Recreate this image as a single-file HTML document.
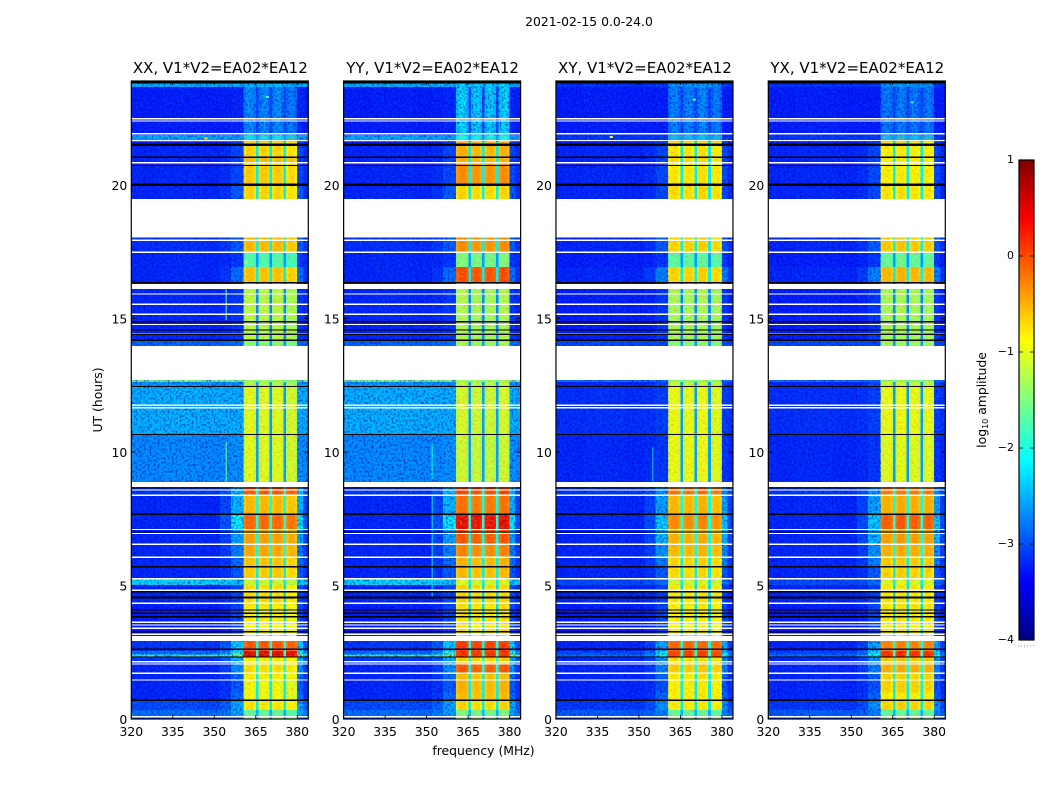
<!DOCTYPE html>
<html lang="en">
<head>
<meta charset="utf-8">
<title>2021-02-15 0.0-24.0</title>
<style>
html,body{margin:0;padding:0;background:#fff;}
#chart{display:block;width:1050px;height:800px;font-family:"DejaVu Sans","Liberation Sans",sans-serif;fill:#000;}
</style>
</head>
<body>
<svg id="chart" xmlns="http://www.w3.org/2000/svg" width="1050" height="800" viewBox="0 0 1050 800">
  <defs>
    <filter id="speckle-light" x="0" y="0" width="100%" height="100%" color-interpolation-filters="sRGB">
      <feTurbulence type="fractalNoise" baseFrequency="0.55 0.42" numOctaves="1" seed="4"/>
      <feColorMatrix type="matrix" values="0 0 0 0 0  0 0 0 0 0.42  0 0 0 0 1  2.4 0 0 0 -1.05"/>
    </filter>
    <filter id="speckle-dark" x="0" y="0" width="100%" height="100%" color-interpolation-filters="sRGB">
      <feTurbulence type="fractalNoise" baseFrequency="0.5 0.45" numOctaves="1" seed="11"/>
      <feColorMatrix type="matrix" values="0 0 0 0 0  0 0 0 0 0  0 0 0 0 0.7  2.4 0 0 0 -1.05"/>
    </filter>
    <filter id="speckle-warm" x="0" y="0" width="100%" height="100%" color-interpolation-filters="sRGB">
      <feTurbulence type="fractalNoise" baseFrequency="0.35 0.5" numOctaves="1" seed="7"/>
      <feColorMatrix type="matrix" values="0 0 0 0 1  0 0 0 0 0.45  0 0 0 0 0  2.4 0 0 0 -1.05"/>
    </filter>
    <filter id="speckle-green" x="0" y="0" width="100%" height="100%" color-interpolation-filters="sRGB">
      <feTurbulence type="fractalNoise" baseFrequency="0.4 0.45" numOctaves="1" seed="19"/>
      <feColorMatrix type="matrix" values="0 0 0 0 0.55  0 0 0 0 1  0 0 0 0 0.35  2.4 0 0 0 -1.05"/>
    </filter>
  </defs>
  <text x="589" y="26" font-size="12.4" text-anchor="middle">2021-02-15 0.0-24.0</text>
  <g id="panels"></g>
  <text transform="translate(102,400) rotate(-90)" font-size="12.4" text-anchor="middle">UT (hours)</text>
  <text x="483.5" y="755" font-size="12.4" text-anchor="middle">frequency (MHz)</text>
  <g id="colorbar"></g>
  <text transform="translate(986,400) rotate(-90)" font-size="12.4" text-anchor="middle">log<tspan font-size="8" dy="2">10</tspan><tspan dy="-2"> amplitude</tspan></text>
  <line x1="1018" x2="1035" y1="646" y2="646" stroke="#888" stroke-width="1" stroke-dasharray="1 2"/>
</svg>
<script>
/* ---------- data (hours, MHz, log10 amplitude) ---------- */
const panelTitles = ["XX, V1*V2=EA02*EA12", "YY, V1*V2=EA02*EA12", "XY, V1*V2=EA02*EA12", "YX, V1*V2=EA02*EA12"];
const xTicks = [320, 335, 350, 365, 380];
const yTicks = [0, 5, 10, 15, 20];
const colorbarTicks = [1, 0, -1, -2, -3, -4];

const freqBinEdges = [320, 330, 345, 352, 356, 360.6, 361.5, 364.2, 365.1, 366, 366.9, 369.2, 370.05, 370.95, 371.8, 374.2, 375.05, 376, 376.9, 379.1, 380, 382, 384];
const freqBinKinds = ["bg", "bg", "bg", "edgeFar", "edge", "sub0", "sub0", "sub0", "gap", "sub1", "sub1", "sub1", "gap", "sub2", "sub2", "sub2", "gap", "sub3", "sub3", "sub3", "edge", "edgeFar"];
const freqBinTilt = [0, 0.02, 0, 0, 0, -0.08, 0.03, -0.08, 0, -0.08, 0.03, -0.08, 0, -0.08, 0.03, -0.08, 0, -0.08, 0.03, -0.08, 0, 0];

const bandStarts = [0, 0.11, 0.34, 0.71, 1.0, 1.46, 1.71, 2.06, 2.32, 2.42, 2.55, 2.92, 3.11, 4.27, 5.02, 5.24, 5.69, 6.06, 6.54, 7.10, 7.68, 8.39, 8.65, 8.88, 10.67, 12.47, 12.62, 12.70, 13.97, 14.19, 16.10, 16.33, 16.93, 17.49, 18.09, 19.48, 20.01, 20.84, 21.04, 21.62, 21.68, 21.87, 23.67, 23.82];
const bandEndHour = 23.9;

const bgParallel = [-3.1, -2.8, -3.0, -3.2, -3.2, -3.2, -3.2, -3.1, -1.9, -2.8, -3.1, -3.1, -3.25, -3.2, -2.25, -3.2, -3.2, -3.2, -3.2, -3.2, -3.2, -3.1, -3.1, -2.65, -2.45, -2.6, -1.5, -3.1, -2.85, -3.2, -3.2, -3.2, -3.2, -3.15, -3.2, -3.2, -3.2, -3.2, -3.2, -2.7, -2.5, -3.25, -2.45, -2.45];
const bgCross = [-3.1, -2.9, -3.1, -3.2, -3.2, -3.2, -3.2, -3.2, -2.8, -3.0, -3.2, -3.2, -3.25, -3.2, -3.0, -3.2, -3.2, -3.2, -3.2, -3.2, -3.2, -3.1, -3.1, -3.2, -3.15, -3.2, -2.8, -3.1, -3.0, -3.25, -3.2, -3.2, -3.25, -3.2, -3.2, -3.2, -3.2, -3.2, -3.2, -3.0, -3.1, -3.25, -3.15, -3.15];
const gapLevels = [-2.8, -2.5, -2.2, -2.2, -2.2, -2.2, -2.1, -2.0, -1.9, -1.9, -2.1, -2.1, -2.3, -2.3, -2.2, -2.2, -2.2, -2.1, -2.1, -2.0, -2.1, -2.1, -2.1, -2.6, -2.6, -2.6, -1.5, -2.6, -2.6, -2.7, -2.7, -2.2, -2.6, -2.2, -2.2, -2.2, -2.2, -2.2, -2.2, -2.6, -2.6, -3.0, -2.4, -2.4];
const edgeParallel = [-3.0, -2.5, -2.5, -2.8, -2.9, -2.8, -2.6, -2.4, -1.4, -1.9, -2.3, -2.3, -3.0, -3.0, -2.35, -2.9, -2.8, -2.7, -2.5, -2.1, -2.4, -2.4, -2.4, -2.6, -2.45, -2.6, -1.5, -3.0, -2.8, -3.1, -3.1, -2.8, -3.1, -2.9, -2.9, -2.9, -3.0, -3.0, -3.0, -2.7, -2.55, -3.2, -2.45, -2.45];
const edgeCross = [-3.0, -2.7, -2.6, -2.85, -2.95, -2.85, -2.7, -2.6, -1.9, -2.2, -2.5, -2.5, -3.0, -3.05, -2.8, -2.9, -2.7, -2.6, -2.4, -2.3, -2.5, -2.6, -2.6, -3.1, -3.05, -3.0, -2.8, -3.0, -3.0, -3.1, -3.1, -2.7, -3.1, -2.9, -2.9, -3.0, -3.0, -3.0, -3.0, -3.0, -3.1, -3.25, -3.1, -3.1];
const blockXX = [-1.5, -1.7, -0.8, -0.95, -0.95, -0.85, -0.75, -0.8, 0.55, 0.55, 0.0, 0.0, -0.85, -0.75, -1.15, -0.65, -0.6, -0.45, -0.4, -0.1, -0.55, 0.0, 0.0, -1.05, -1.05, -1.3, -1.4, -1.4, -1.5, -1.25, -1.25, -0.6, -1.8, -0.55, -0.55, -0.7, -0.65, -0.55, -0.7, -1.4, -2.3, -2.65, -2.4, -2.4];
const blockYY = [-1.5, -1.6, -0.75, -0.6, -0.55, -0.6, -0.05, -0.7, 0.15, 0.15, 0.1, 0.1, -0.8, -0.75, -1.1, -0.6, -0.55, -0.3, -0.05, 0.45, -0.2, 0.05, 0.05, -1.2, -1.15, -1.3, -1.4, -1.4, -1.4, -1.35, -1.35, 0.0, -1.6, -0.35, -0.35, -0.75, -0.35, -0.55, -0.55, -1.2, -2.2, -2.3, -2.3, -2.3];
const blockXY = [-1.5, -1.7, -0.85, -0.85, -0.85, -0.8, -0.65, -0.75, 0.1, 0.1, -0.1, -0.1, -0.85, -0.8, -1.1, -0.75, -0.7, -0.55, -0.5, -0.3, -0.55, -0.15, -0.15, -1.0, -1.0, -1.2, -1.5, -1.5, -1.5, -1.35, -1.35, -0.7, -1.75, -0.7, -0.7, -0.75, -0.8, -0.75, -0.8, -1.5, -2.5, -2.7, -2.6, -2.6];
const blockYX = [-1.5, -1.7, -0.7, -0.85, -0.7, -0.7, -0.5, -0.6, 0.2, 0.2, -0.25, -0.25, -0.8, -0.8, -1.05, -0.7, -0.65, -0.5, -0.4, -0.05, -0.5, -0.2, -0.2, -1.05, -1.0, -1.2, -1.5, -1.5, -1.4, -1.35, -1.35, -0.55, -1.7, -0.65, -0.65, -0.8, -0.85, -0.85, -0.85, -1.4, -2.5, -2.75, -2.6, -2.6];
const subOffsetsXX = [0, 0, 0, -0.08];
const subOffsetsYY = [0.05, 0, 0, 0.05];
const subOffsetsXY = [0, 0, 0.03, -0.03];
const subOffsetsYX = [0, 0.03, 0, 0];

const blankStarts = [2.92, 8.69, 12.70, 16.10, 18.09];
const blankEnds = [3.11, 8.88, 13.97, 16.29, 19.48];
const whiteRows = [22.49, 22.40, 21.93, 21.67, 20.84, 18.06, 17.94, 17.48, 15.92, 15.53, 15.16, 14.78, 14.44, 11.76, 11.66, 8.58, 8.38, 7.10, 6.95, 6.54, 6.06, 5.25, 4.83, 4.33, 3.62, 3.52, 3.40, 3.17, 2.15, 2.06, 1.71, 1.46, 0.09];
const flaggedRows = [21.04, 20.74, 16.34, 14.88, 14.57, 14.41, 14.19, 12.46, 10.66, 8.65, 7.67, 7.01, 5.70, 4.77, 4.08, 3.96, 3.83, 3.27, 2.61, 2.32, 0.70];
const flaggedRowsWide = [23.86, 21.51, 20.01, 4.55];

const rfiPanels = [0, 0, 1, 1, 2];
const rfiFreqs = [354.3, 354.3, 352, 352, 355];
const rfiStarts = [14.94, 8.88, 4.6, 9.0, 8.9];
const rfiEnds = [16.1, 10.37, 8.4, 10.3, 10.2];
const rfiLevels = [-1.6, -1.6, -2.2, -2.1, -2.4];

const hotPanels = [0, 0, 0, 1, 2, 2, 3];
const hotFreqs = [369.2, 347, 361.5, 362, 370, 340, 372];
const hotHours = [23.3, 21.75, 17.1, 17.0, 23.2, 21.8, 23.1];
const hotLevels = [-1.7, -0.8, -1.0, -1.4, -1.7, -0.9, -1.9];

/* ---------- layout ---------- */
const NS = "http://www.w3.org/2000/svg";
const panelLeft = 131.3, panelStep = 212.33, panelWidth = 177, plotTop = 81, plotBottom = 719;
const freqMin = 320, freqMax = 384, hourMax = bandEndHour;
const cbarLeft = 1019, cbarWidth = 15, cbarTop = 160, cbarBottom = 640;

function xScale(panel, f) { return panelLeft + panel * panelStep + (f - freqMin) / (freqMax - freqMin) * panelWidth; }
function yScale(h) { return plotBottom - h / hourMax * (plotBottom - plotTop); }
function cbarScale(v) { return cbarBottom - (v + 4) / 5 * (cbarBottom - cbarTop); }
function clip01(v) { return Math.max(0, Math.min(1, v)); }
function jet(v) {
  const t = clip01((v + 4) / 5);
  const r = clip01(1.5 - Math.abs(4 * t - 3));
  const g = clip01(1.5 - Math.abs(4 * t - 2));
  const b = clip01(1.5 - Math.abs(4 * t - 1));
  return "rgb(" + Math.round(r * 255) + "," + Math.round(g * 255) + "," + Math.round(b * 255) + ")";
}
function make(tag, attrs, parent) {
  const el = document.createElementNS(NS, tag);
  for (const k in attrs) el.setAttribute(k, attrs[k]);
  parent.appendChild(el);
  return el;
}

const panelSeries = [
  { bg: bgParallel, edge: edgeParallel, block: blockXX, offs: subOffsetsXX },
  { bg: bgParallel, edge: edgeParallel, block: blockYY, offs: subOffsetsYY },
  { bg: bgCross, edge: edgeCross, block: blockXY, offs: subOffsetsXY },
  { bg: bgCross, edge: edgeCross, block: blockYX, offs: subOffsetsYX }
];

function cellLevel(series, band, bin) {
  const kind = freqBinKinds[bin];
  const bg = series.bg[band];
  if (kind === "bg") return bg + freqBinTilt[bin];
  if (kind === "edge") return series.edge[band];
  if (kind === "edgeFar") return series.edge[band] * 0.25 + bg * 0.75;
  if (kind === "gap") return gapLevels[band];
  return series.block[band] + series.offs[Number(kind.slice(3))] + freqBinTilt[bin];
}

const panelsRoot = document.getElementById("panels");
panelSeries.forEach(function (series, p) {
  const g = make("g", {}, panelsRoot);
  
  

  /* heatmap cells */
  const cells = make("g", { "shape-rendering": "crispEdges" }, g);
  
  
  bandStarts.forEach(function (start, b) {
    const end = b + 1 < bandStarts.length ? bandStarts[b + 1] : bandEndHour;
    for (let k = 0; k < freqBinKinds.length; k++) {
      const x0 = xScale(p, freqBinEdges[k]), x1 = xScale(p, freqBinEdges[k + 1]);
      const y0 = yScale(end), y1 = yScale(start);
      const cell = make("rect", { x: x0, y: y0, width: x1 - x0, height: y1 - y0, fill: jet(cellLevel(series, b, k)) }, cells);
      
      
    }
  });

  /* speckle textures */
  const tex = make("g", {}, g);
  
  
  [[320, 360.6, 0, hourMax], [380, 384, 0, hourMax], [360.6, 380, 21.87, hourMax]].forEach(function (r) {
    const a = { x: xScale(p, r[0]), y: yScale(r[3]), width: xScale(p, r[1]) - xScale(p, r[0]), height: yScale(r[2]) - yScale(r[3]) };
    make("rect", Object.assign({ filter: "url(#speckle-light)", opacity: 0.45 }, a), tex);
    make("rect", Object.assign({ filter: "url(#speckle-dark)", opacity: 0.7 }, a), tex);
  });
  [[360.6, 365.1], [366, 370.05], [370.95, 375.05], [376, 380]].forEach(function (r) {
    const a = { x: xScale(p, r[0]), y: yScale(21.87), width: xScale(p, r[1]) - xScale(p, r[0]), height: yScale(0) - yScale(21.87) };
    make("rect", Object.assign({ filter: "url(#speckle-warm)", opacity: 0.4 }, a), tex);
    make("rect", Object.assign({ filter: "url(#speckle-green)", opacity: 0.3 }, a), tex);
  });

  /* narrow RFI lines and hot pixels */
  rfiPanels.forEach(function (rp, i) {
    if (rp !== p) return;
    const rfi = make("line", { x1: xScale(p, rfiFreqs[i]), x2: xScale(p, rfiFreqs[i]), y1: yScale(rfiStarts[i]), y2: yScale(rfiEnds[i]), stroke: jet(rfiLevels[i]), "stroke-width": 1 }, g);
    
    
  });
  hotPanels.forEach(function (hp, i) {
    if (hp !== p) return;
    const hot = make("rect", { x: xScale(p, hotFreqs[i]) - 1.5, y: yScale(hotHours[i]) - 1, width: 3, height: 2, fill: jet(hotLevels[i]) }, g);
    
    
  });

  /* flagged rows */
  const x0 = xScale(p, freqMin), w = panelWidth;
  const rows = make("g", { "shape-rendering": "crispEdges" }, g);
  
  
  blankStarts.forEach(function (s, i) {
    const blank = make("rect", { x: x0, y: yScale(blankEnds[i]), width: w, height: yScale(s) - yScale(blankEnds[i]), fill: "#fff" }, rows);
    
    
  });
  whiteRows.forEach(function (h) {
    const row = make("rect", { x: x0, y: yScale(h) - 0.7, width: w, height: 1.4, fill: "#fff" }, rows);
    
    
  });
  flaggedRows.forEach(function (h) {
    const row = make("rect", { x: x0, y: yScale(h) - 0.6, width: w, height: 1.2, fill: "#000" }, rows);
    
    
  });
  flaggedRowsWide.forEach(function (h) {
    const row = make("rect", { x: x0, y: yScale(h) - 1.2, width: w, height: 2.4, fill: "#000" }, rows);
    
    
  });

  /* frame */
  const frame = make("rect", { x: x0, y: plotTop, width: w, height: plotBottom - plotTop, fill: "none", stroke: "#000", "stroke-width": 1.2 }, g);
  
  

  /* ticks */
  xTicks.forEach(function (f) {
    const x = xScale(p, f);
    make("path", { d: "M" + x + " " + plotBottom + "v-4M" + x + " " + plotTop + "v4", stroke: "#000", "stroke-width": 0.8, fill: "none" }, g);
    const label = make("text", { x: x, y: plotBottom + 17, "font-size": 12.4, "text-anchor": "middle" }, g);
    label.textContent = String(f);
    
    
  });
  yTicks.forEach(function (h) {
    const y = yScale(h);
    make("path", { d: "M" + x0 + " " + y + "h4M" + (x0 + w) + " " + y + "h-4", stroke: "#000", "stroke-width": 0.8, fill: "none" }, g);
    const label = make("text", { x: x0 - 4, y: y + 5, "font-size": 12.4, "text-anchor": "end" }, g);
    label.textContent = String(h);
    
    
  });

  const title = make("text", { x: x0 + w / 2 + 0.5, y: 73, "font-size": 15, "text-anchor": "middle" }, g);
  title.textContent = panelTitles[p];
  
  
});

/* ---------- colorbar ---------- */
const cbarRoot = document.getElementById("colorbar");
const cbarRamp = make("g", { "shape-rendering": "crispEdges" }, cbarRoot);


for (let i = 0; i < 240; i++) {
  const lo = -4 + 5 * i / 240, hi = -4 + 5 * (i + 1) / 240;
  make("rect", { x: cbarLeft, y: cbarScale(hi), width: cbarWidth, height: cbarScale(lo) - cbarScale(hi) + 0.6, fill: jet((lo + hi) / 2) }, cbarRamp);
}
const cbarFrame = make("rect", { x: cbarLeft, y: cbarTop, width: cbarWidth, height: cbarBottom - cbarTop, fill: "none", stroke: "#000", "stroke-width": 1.2 }, cbarRoot);


colorbarTicks.forEach(function (v) {
  const y = cbarScale(v);
  make("path", { d: "M" + cbarLeft + " " + y + "h4M" + (cbarLeft + cbarWidth) + " " + y + "h-4", stroke: "#000", "stroke-width": 0.8, fill: "none" }, cbarRoot);
  const label = make("text", { x: cbarLeft - 5, y: y + 3, "font-size": 11, "text-anchor": "end" }, cbarRoot);
  label.textContent = v < 0 ? "\u2212" + Math.abs(v) : String(v);
  
  
});
</script>
</body>
</html>
